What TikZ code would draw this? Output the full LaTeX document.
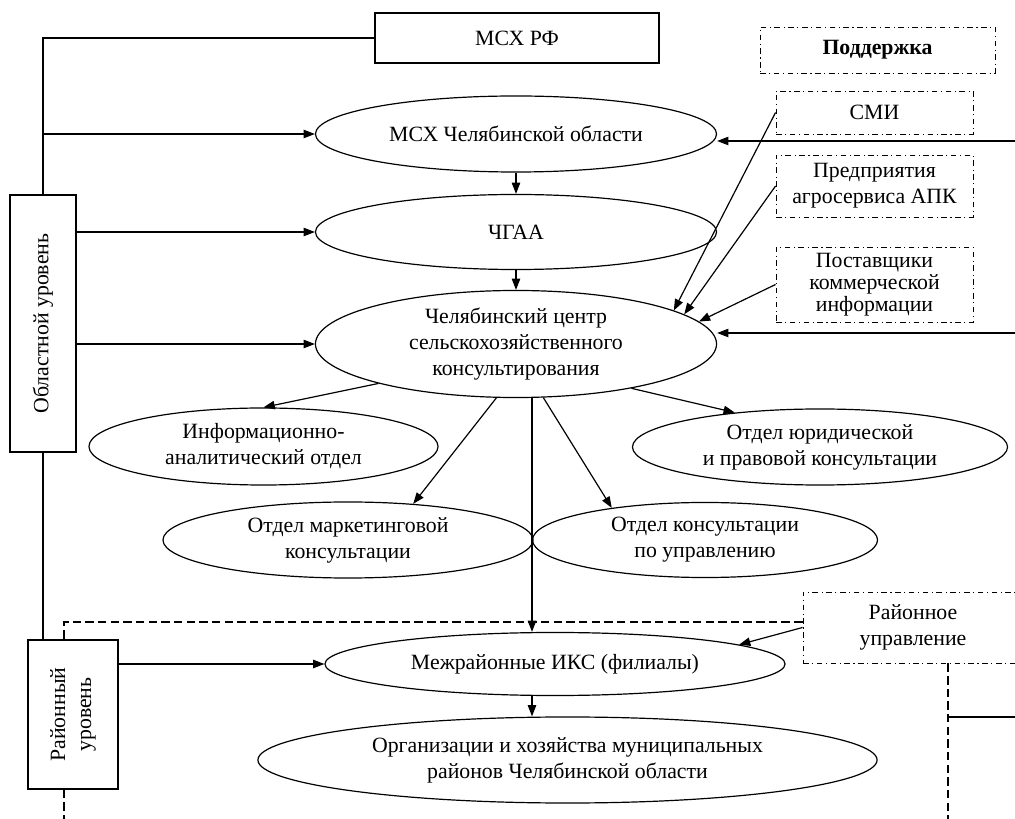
\documentclass[tikz,border=0pt]{standalone}
\usepackage{fontspec}
\setmainfont{Liberation Serif}
\usetikzlibrary{shapes.geometric,arrows.meta}

\begin{document}
\begin{tikzpicture}[x=0.025cm,y=-0.025cm,line width=0.85pt,>={Triangle[length=8pt,width=6pt]},
        font=\fontsize{15.5}{18.5}\selectfont,
        oval/.style={ellipse,draw,inner sep=0pt,align=center},
        rbox/.style={rectangle,draw,fill=white,inner sep=0pt,align=center},
        dbox/.style={rectangle,draw,line width=0.6pt,inner sep=0pt,align=center,dash pattern=on 4pt off 2.5pt on 0.8pt off 2.5pt},
        regline/.style={dash pattern=on 6pt off 3pt}]
            \useasboundingbox (0,0) rectangle (1015,819);

            \node[rbox,minimum width=7.1cm,minimum height=1.25cm] (msxrf) at (517,38) {МСХ РФ};
            \node[rbox,rotate=90,minimum width=6.425cm,minimum height=1.65cm] (obl) at (43,323.5) {Областной уровень};
            \node[rbox,rotate=90,minimum width=3.725cm,minimum height=2.25cm] (rai) at (73,714.5) {Районный\\уровень};

            \node[oval,minimum width=10.025cm,minimum height=1.9cm] (msx) at (516,134) {МСХ Челябинской области};
            \node[oval,minimum width=10.025cm,minimum height=1.875cm] (chgaa) at (516,232) {ЧГАА};
            \node[oval,minimum width=10.025cm,minimum height=2.675cm] (centr) at (516,344) {Челябинский центр\\сельскохозяйственного\\консультирования};
            \node[oval,minimum width=8.725cm,minimum height=1.925cm] (info) at (263.5,446.5) {Информационно-\\аналитический отдел};
            \node[oval,minimum width=9.375cm,minimum height=1.9cm] (legal) at (820,447) {Отдел юридической\\и правовой консультации};
            \node[oval,minimum width=9.25cm,minimum height=1.9cm] (market) at (348,540) {Отдел маркетинговой\\консультации};
            \node[oval,minimum width=8.625cm,minimum height=1.875cm] (manage) at (705,540) {Отдел консультации\\по управлению};
            \node[oval,minimum width=11.5cm,minimum height=1.575cm] (mezh) at (555,664) {Межрайонные ИКС (филиалы)};
            \node[oval,minimum width=15.475cm,minimum height=2.15cm] (org) at (567.5,760) {Организации и хозяйства муниципальных\\районов Челябинской области};

            \node[dbox,minimum width=5.875cm,minimum height=1.15cm] (podd) at (877.5,50) {\textbf{Поддержка}};
            \node[dbox,minimum width=4.925cm,minimum height=1.075cm] (smi) at (874.5,112.5) {СМИ};
            \node[dbox,minimum width=4.925cm,minimum height=1.55cm] (pred) at (874.5,186) {Предприятия\\агросервиса АПК};
            \node[dbox,minimum width=4.925cm,minimum height=1.875cm,font=\fontsize{15.5}{15.5}\selectfont] (post) at (874.5,284.5) {Поставщики\\коммерческой\\информации};
            \node[dbox,minimum width=5.5cm,minimum height=1.775cm] (rupr) at (913,627.5) {Районное\\управление};

            % free ends at the page edges
            \coordinate (rin1) at (1015,141);
            \coordinate (rin2) at (1015,333);
            \coordinate (rout) at (1015,717);
            \coordinate (axis) at (532,0);
            \coordinate (dtl) at (64,622);
            \coordinate (dbl) at (64,819);
            \coordinate (dr) at (948,819);

            % left level lines
            \draw (msxrf.west) -| (obl.east);
            \draw (obl.west) -- (obl.west |- rai.east);
            \draw[->] (obl.east |- msx.west) -- (msx.west);
            \draw[->] (obl.south |- chgaa.west) -- (chgaa.west);
            \draw[->] (obl.south |- centr.west) -- (centr.west);
            \draw[->] (rai.south |- mezh.west) -- (mezh.west);

            % main chain
            \draw[->] (msx) -- (chgaa);
            \draw[->] (chgaa) -- (centr);
            \draw[->] (axis |- centr.south) -- (axis |- mezh.north);
            \draw[->] (axis |- mezh.south) -- (axis |- org.north);

            % departments
            \draw[->] (centr.196) -- (info.north);
            \draw[->] (centr.250) -- (market.29);
            \draw[->] (centr.297) -- (manage.161);
            \draw[->] (centr.339) -- (legal.158);

            % support
            \draw[->] (smi.west) -- (centr.12);
            \draw[->] (pred.west) -- (centr.10);
            \draw[->] (post.west) -- (centr.7.5);
            \draw[->] (rin1) -- (rin1 -| msx.east);
            \draw[->] (rin2) -- (rin2 -| centr.east);
            \draw[->] (rupr.west) -- (mezh.6);

            % district border
            \draw[regline] (dtl -| rupr.west) -- (dtl) -- (dtl |- rai.east);
            \draw[regline] (dtl |- rai.west) -- (dbl);
            \draw[regline] (dr |- rupr.south) -- (dr);
            \draw (rout -| dr) -- (rout);
        \end{tikzpicture}
\end{document}
